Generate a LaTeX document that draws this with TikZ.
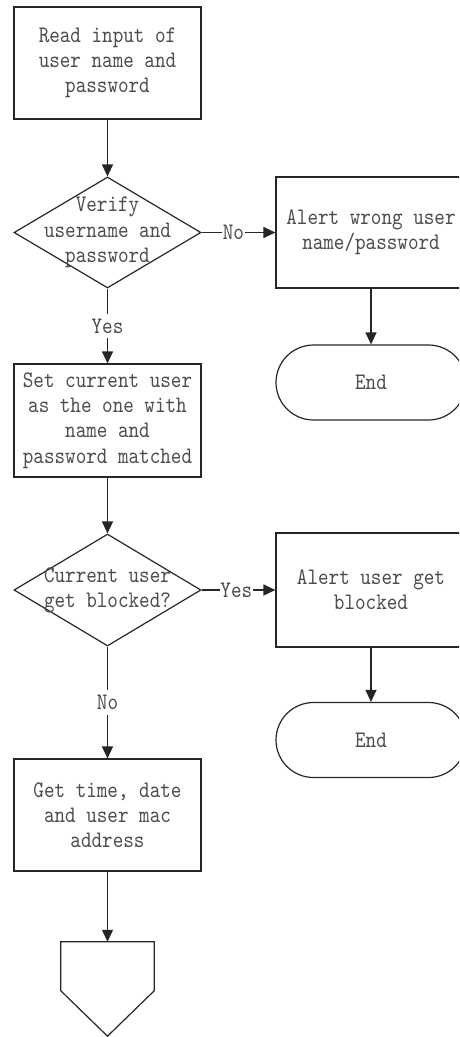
\documentclass[tikz,border=0pt]{standalone}
\usepackage{fontspec}
\newfontfamily\flowfont{lmmono10-regular}[Extension=.otf, FakeStretch=0.85]
\usetikzlibrary{shapes.geometric,shapes.misc,arrows.meta}

\tikzset{
  base/.style={draw=black!85, line width=1.2pt, inner sep=0pt, align=center,
    font=\flowfont\fontsize{23.7}{25.3}\selectfont, text=black!70},
  procbox/.style={base, rectangle, minimum width=187pt, minimum height=112pt},
  sidebox/.style={base, rectangle, minimum width=190pt, minimum height=112pt},
  decision/.style={base, diamond, minimum width=187pt, minimum height=111pt},
  terminal/.style={base, rounded rectangle, minimum width=190pt, minimum height=75pt},
  flow/.style={draw=black!85, line width=1.2pt, -{Triangle[length=12pt,width=11pt]}},
  tag/.style={fill=white, inner xsep=0.6pt, inner ysep=5pt,
    font=\flowfont\fontsize{23.7}{25.3}\selectfont, text=black!70},
}

\begin{document}
\begin{tikzpicture}[x=1pt, y=-1pt]
  \useasboundingbox (0,0) rectangle (459,1037);
  \clip (0,0) rectangle (459,1037);

  % main column
  \node[procbox] (read) at (107.5,63) {Read input of\\user name and\\password};
  \node[decision, label={[base, draw=none]center:Verify\\username and\\password}]
    (verify) at (107.5,232.5) {};
  \node[procbox, minimum height=113pt] (setuser) at (107.5,420.5)
    {Set current user\\as the one with\\name and\\password matched};
  \node[decision, minimum height=112pt,
        label={[base, draw=none]center:Current user\\get blocked?}]
    (blocked) at (107.5,590) {};
  \node[procbox] (gettime) at (107.5,815) {Get time, date\\and user mac\\address};

  % off-page connector
  \node[inner sep=0pt, minimum width=93pt, minimum height=94pt] (offpage) at (107.5,989) {};
  \draw[draw=black!85, line width=1.2pt, line join=miter]
    (offpage.north west) -- (offpage.north east)
    -- ([yshift=-49pt]offpage.north east) -- (offpage.south)
    -- ([yshift=-49pt]offpage.north west) -- cycle;

  % right column
  \node[sidebox, minimum height=111pt] (wrong) at (371,232.5) {Alert wrong user\\name/password};
  \node[terminal] (end1) at (371,382.5) {End};
  \node[sidebox, minimum height=114pt] (alertblk) at (371,590) {Alert user get\\blocked};
  \node[terminal] (end2) at (371,740) {End};

  % connectors
  \draw[flow] (read) -- (verify);
  \draw[flow] (verify) -- node[tag, pos=0.43] {No} (wrong);
  \draw[flow] (wrong) -- (end1);
  \draw[flow] (verify) -- node[tag] {Yes} (setuser);
  \draw[flow] (setuser) -- (blocked);
  \draw[flow] (blocked) -- node[tag, pos=0.47] {Yes} (alertblk);
  \draw[flow] (alertblk) -- (end2);
  \draw[flow] (blocked) -- node[tag] {No} (gettime);
  \draw[flow] (gettime) -- (offpage.north);
\end{tikzpicture}
\end{document}
